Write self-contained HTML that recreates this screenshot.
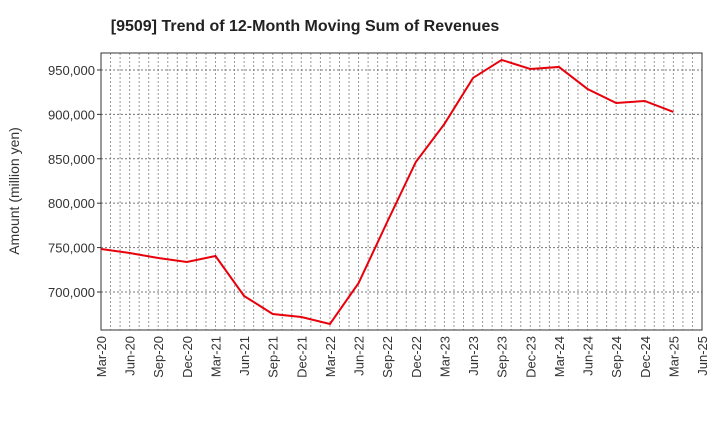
<!DOCTYPE html>
<html><head><meta charset="utf-8"><style>
body{margin:0;background:#fff;font-family:"Liberation Sans",sans-serif}
</style></head><body>
<svg id="chart" width="720" height="440" xmlns="http://www.w3.org/2000/svg" font-family="Liberation Sans, sans-serif">
<text x="305" y="31" text-anchor="middle" font-size="16" font-weight="bold" fill="#222">[9509]  Trend of 12-Month Moving Sum of Revenues</text>
<text transform="translate(19,191) rotate(-90)" text-anchor="middle" font-size="14" fill="#333">Amount (million yen)</text>
<g id="grid"></g><g id="axes"></g><g id="series"></g>
</svg>
<script>
const categories=["Mar-20","Jun-20","Sep-20","Dec-20","Mar-21","Jun-21","Sep-21","Dec-21","Mar-22","Jun-22","Sep-22","Dec-22","Mar-23","Jun-23","Sep-23","Dec-23","Mar-24","Jun-24","Sep-24","Dec-24","Mar-25","Jun-25"];
const revenues=[748400,743900,738300,733800,740500,695500,675200,671800,664000,710000,778800,846400,889200,941000,961300,951100,953400,928600,912800,915100,902700];
const yTicks=[700000,750000,800000,850000,900000,950000];
const L=101,R=702,T=53,B=330,yMin=657200,yMax=969100;
const ns="http://www.w3.org/2000/svg";
const xS=i=>L+(R-L)*i/(categories.length-1);
const yS=v=>B-(v-yMin)/(yMax-yMin)*(B-T);
function mk(tag,attrs,parent){const e=document.createElementNS(ns,tag);for(const k in attrs)e.setAttribute(k,attrs[k]);document.getElementById(parent).appendChild(e);return e;}
const nMonths=(categories.length-1)*3;
for(let m=1;m<nMonths;m++){const x=L+(R-L)*m/nMonths;
 const g=mk('line',{x1:x,x2:x,y1:T,y2:B,stroke:'#999','stroke-dasharray':'2,2','stroke-width':1},'grid');
 
 }
yTicks.forEach(v=>{const y=yS(v);
 const g=mk('line',{x1:L,x2:R,y1:y,y2:y,stroke:'#777','stroke-dasharray':'2,2','stroke-width':1},'grid');
 
 
 const t=mk('text',{x:L-6,y:y+5,'text-anchor':'end','font-size':13,fill:'#333'},'axes');t.textContent=v.toLocaleString('en-US');
 
 
 mk('line',{x1:L-4,x2:L,y1:y,y2:y,stroke:'#333'},'axes');});
categories.forEach((c,i)=>{const x=xS(i);
 const t=mk('text',{transform:`translate(${x+5},${B+6}) rotate(-90)`,'text-anchor':'end','font-size':13,fill:'#333'},'axes');t.textContent=c;
 
 });
const fr=mk('rect',{x:L,y:T,width:R-L,height:B-T,fill:'none',stroke:'#333','stroke-width':1},'axes');


const p=mk('polyline',{points:revenues.map((v,i)=>xS(i)+','+yS(v)).join(' '),fill:'none',stroke:'#e8000b','stroke-width':2},'series');


</script>
</body></html>
